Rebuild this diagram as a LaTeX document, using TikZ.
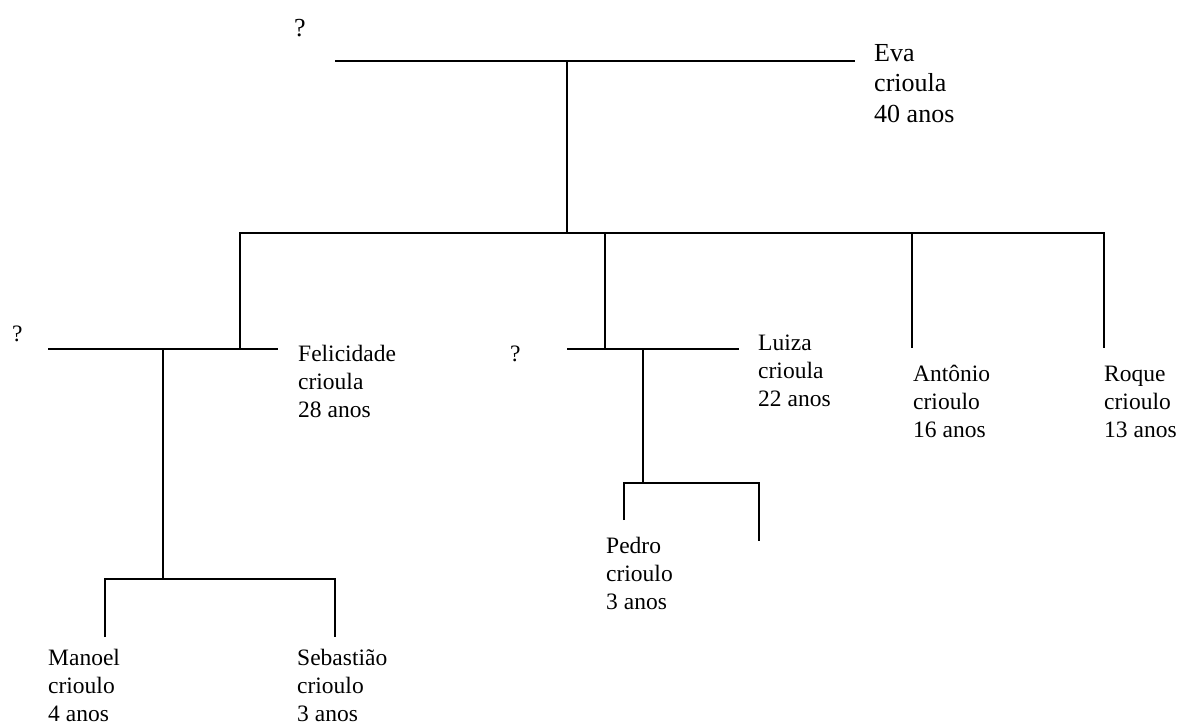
\documentclass[tikz,border=0pt]{standalone}
\usepackage{fontspec}
\setmainfont{Liberation Serif}
\newcommand\fonteA{\fontsize{23.5}{28}\selectfont}
\newcommand\fonteB{\fontsize{26}{30.5}\selectfont}
\newcommand\pessoa[1]{\begin{tabular}[t]{@{}l@{}}#1\end{tabular}}
\tikzset{
  kin/.style={line width=1.8pt, line cap=butt, line join=miter},
  who/.style={anchor=base west, inner sep=0pt, font=\fonteA},
  whobig/.style={who, font=\fonteB},
}
\begin{document}
\begin{tikzpicture}[x=1pt,y=-1pt]
\useasboundingbox (0,0) rectangle (1181,726);

% --- first generation: unknown father and Eva
\node[whobig] (q0) at (294,36) {?};
\node[whobig] (eva) at (874,61) {\pessoa{Eva\\crioula\\40 anos}};
\coordinate (c0l) at (335,61);
\coordinate (c0r) at (855,61);
\coordinate (c0m) at (567,61);
\coordinate (s0) at (567,233);
\draw[kin] (c0l) -- (c0r);
\draw[kin] (c0m) -- (s0);

% --- sibling bar and drops to Eva's children
\coordinate (s0l) at (240,233);
\coordinate (s0r) at (1104,233);
\coordinate (fel-up) at (240,349);
\coordinate (lu-top) at (605,233);
\coordinate (lu-up) at (605,349);
\coordinate (an-top) at (912,233);
\coordinate (an-up) at (912,348);
\coordinate (ro-up) at (1104,348);
\draw[kin] (fel-up) -- (s0l) -- (s0r) -- (ro-up);
\draw[kin] (lu-top) -- (lu-up);
\draw[kin] (an-top) -- (an-up);

\node[who] (fel) at (298,361) {\pessoa{Felicidade\\crioula\\28 anos}};
\node[who] (luiza) at (758,350) {\pessoa{Luiza\\crioula\\22 anos}};
\node[who] (antonio) at (913,381) {\pessoa{Antônio\\crioulo\\16 anos}};
\node[who] (roque) at (1104,381) {\pessoa{Roque\\crioulo\\13 anos}};

% --- Felicidade's family
\node[who] (q1) at (12,341) {?};
\coordinate (c1l) at (48,349);
\coordinate (c1r) at (278,349);
\coordinate (c1m) at (163,349);
\coordinate (s1) at (163,579);
\coordinate (s1l) at (105,579);
\coordinate (s1r) at (335,579);
\coordinate (ma-up) at (105,637);
\coordinate (se-up) at (335,637);
\draw[kin] (c1l) -- (c1r);
\draw[kin] (c1m) -- (s1);
\draw[kin] (ma-up) -- (s1l) -- (s1r) -- (se-up);
\node[who] (manoel) at (48,665) {\pessoa{Manoel\\crioulo\\4 anos}};
\node[who] (sebastiao) at (297,665) {\pessoa{Sebastião\\crioulo\\3 anos}};

% --- Luiza's family
\node[who] (q2) at (510,361) {?};
\coordinate (c2l) at (567,349);
\coordinate (c2r) at (739,349);
\coordinate (c2m) at (643,349);
\coordinate (s2) at (643,483);
\coordinate (s2l) at (624,483);
\coordinate (s2r) at (759,483);
\coordinate (pe-up) at (624,520);
\coordinate (x-up) at (759,541);
\draw[kin] (c2l) -- (c2r);
\draw[kin] (c2m) -- (s2);
\draw[kin] (pe-up) -- (s2l) -- (s2r) -- (x-up);
\node[who] (pedro) at (606,553) {\pessoa{Pedro\\crioulo\\3 anos}};
\end{tikzpicture}
\end{document}
